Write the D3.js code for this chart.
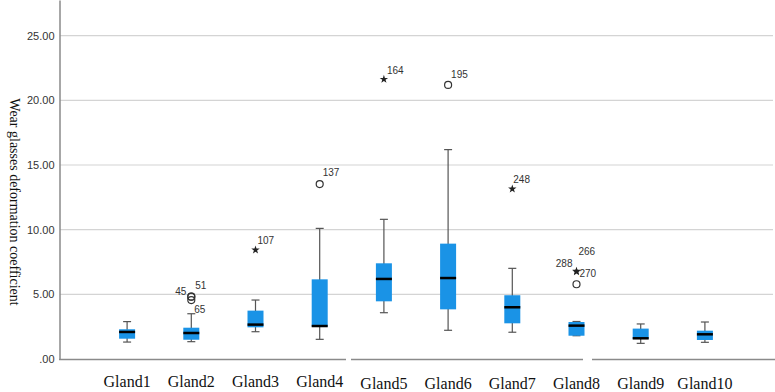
<!DOCTYPE html>
<html>
<head>
<meta charset="utf-8">
<script src="https://cdn.jsdelivr.net/npm/d3@7"></script>
<style>
  body { margin: 0; background: #fff; }
  svg { display: block; }
</style>
</head>
<body>
<div id="chart"></div>
<script>
// === DATA ===
const glands = ["Gland1","Gland2","Gland3","Gland4","Gland5","Gland6","Gland7","Gland8","Gland9","Gland10"];
const whiskerLow  = [1.31, 1.34, 2.11, 1.52, 3.58, 2.22, 2.07, 1.80, 1.21, 1.29];
const q1          = [1.57, 1.49, 2.45, 2.50, 4.46, 3.84, 2.76, 1.80, 1.55, 1.47];
const median      = [2.09, 2.01, 2.66, 2.55, 6.19, 6.26, 4.00, 2.58, 1.60, 1.91];
const q3          = [2.30, 2.42, 3.74, 6.16, 7.40, 8.92, 4.93, 2.86, 2.35, 2.19];
const whiskerHigh = [2.89, 3.50, 4.56, 10.10, 10.80, 16.19, 7.01, 2.90, 2.71, 2.86];

// outliers: gland, value, case label, kind (o = outlier, * = extreme)
const outlierGland = ["Gland2","Gland2","Gland2","Gland3","Gland4","Gland5","Gland6","Gland7","Gland8","Gland8","Gland8"];
const outlierValue = [4.82, 4.82, 4.56, 8.43, 13.53, 21.63, 21.19, 13.15, 6.80, 6.75, 5.78];
const outlierCase  = ["45","51","65","107","137","164","195","248","266","270","288"];
const outlierKind  = ["o","o","o","*","o","*","o","*","*","*","o"];

const yTicks = [0, 5, 10, 15, 20, 25];

// label placement next to each case marker (layout only)
const labelDx = [-5, 4, 3, 2, 3, 3, 3, 1, 2, 3, -4];
const labelDy = [-2, -8, 13, -6, -8, -5, -7, -6, -16, 5, -17];
const labelAnchor = ["end","start","start","start","start","start","start","start","start","start","end"];

// === SETUP ===
const W = 775, H = 392;
const svg = d3.select("#chart").append("svg").attr("width", W).attr("height", H);

const x = d3.scaleBand().domain(glands).range([95, 737]);
const y = d3.scaleLinear().domain([0, 27.76]).range([359, 0]);
const cx = g => x(g) + x.bandwidth() / 2;

// gridlines
svg.append("g").selectAll("line")
  .data(yTicks.filter(d => d > 0))
  .join("line")
  .attr("x1", 60).attr("x2", 773)
  .attr("y1", d => y(d)).attr("y2", d => y(d))
  .attr("stroke", "#d4d4d4").attr("stroke-width", 1.2);

// y axis
const yAxis = svg.append("g").attr("transform", "translate(59.5,0)")
  .call(d3.axisLeft(y).tickValues(yTicks).tickSize(0).tickPadding(5)
    .tickFormat(d => d === 0 ? ".00" : d3.format(".2f")(d)));
yAxis.select(".domain").attr("stroke", "#8a8a8a").attr("stroke-width", 1.5);
yAxis.selectAll("text").attr("font-family", "Liberation Sans, Arial, sans-serif")
  .attr("font-size", 11).attr("fill", "#333");

// x baseline (pieces, as in the source image)
const baseSegs = [[59, 346], [351, 583], [592, 775]];
svg.append("g").selectAll("line")
  .data(baseSegs)
  .join("line")
  .attr("x1", d => d[0]).attr("x2", d => d[1])
  .attr("y1", 359.5).attr("y2", 359.5)
  .attr("stroke", "#8a8a8a").attr("stroke-width", 1.5);

// x labels
svg.append("g").selectAll("text")
  .data(glands)
  .join("text")
  .attr("x", d => cx(d))
  .attr("y", (d, i) => i < 4 ? 387 : 389)
  .attr("text-anchor", "middle")
  .attr("font-family", "Liberation Serif, Times New Roman, serif")
  .attr("font-size", 16).attr("fill", "#111")
  .text(d => d);

// y title
svg.append("text")
  .attr("transform", "translate(10,202) rotate(90)")
  .attr("text-anchor", "middle")
  .attr("font-family", "Liberation Serif, Times New Roman, serif")
  .attr("font-size", 14).attr("fill", "#111")
  .text("Wear glasses deformation coefficient");

// === BOXES ===
const boxW = 16, capW = 8;
const boxes = glands.map((g, i) => ({
  g, lo: whiskerLow[i], q1: q1[i], med: median[i], q3: q3[i], hi: whiskerHigh[i]
}));

const bx = svg.append("g").selectAll("g").data(boxes).join("g");

bx.append("line")
  .attr("x1", d => cx(d.g)).attr("x2", d => cx(d.g))
  .attr("y1", d => y(d.hi)).attr("y2", d => y(d.lo))
  .attr("stroke", "#555").attr("stroke-width", 1.2);
bx.append("line")
  .attr("x1", d => cx(d.g) - capW / 2).attr("x2", d => cx(d.g) + capW / 2)
  .attr("y1", d => y(d.hi)).attr("y2", d => y(d.hi))
  .attr("stroke", "#555").attr("stroke-width", 1.2);
bx.append("line")
  .attr("x1", d => cx(d.g) - capW / 2).attr("x2", d => cx(d.g) + capW / 2)
  .attr("y1", d => y(d.lo)).attr("y2", d => y(d.lo))
  .attr("stroke", "#555").attr("stroke-width", 1.2);
bx.append("rect")
  .attr("x", d => cx(d.g) - boxW / 2).attr("width", boxW)
  .attr("y", d => y(d.q3)).attr("height", d => Math.max(1, y(d.q1) - y(d.q3)))
  .attr("fill", "#1a93e6");
bx.append("line")
  .attr("x1", d => cx(d.g) - boxW / 2).attr("x2", d => cx(d.g) + boxW / 2)
  .attr("y1", d => y(d.med)).attr("y2", d => y(d.med))
  .attr("stroke", "#000").attr("stroke-width", 2.5);

// === OUTLIERS ===
const outs = outlierValue.map((v, i) => ({
  g: outlierGland[i], v, c: outlierCase[i], k: outlierKind[i],
  dx: labelDx[i], dy: labelDy[i], a: labelAnchor[i]
}));

const og = svg.append("g");
og.selectAll("circle")
  .data(outs.filter(d => d.k === "o"))
  .join("circle")
  .attr("cx", d => cx(d.g)).attr("cy", d => y(d.v)).attr("r", 3.5)
  .attr("fill", "none").attr("stroke", "#333").attr("stroke-width", 1.2);
og.selectAll("path")
  .data(outs.filter(d => d.k === "*"))
  .join("path")
  .attr("transform", d => `translate(${cx(d.g)},${y(d.v)})`)
  .attr("d", d3.symbol().type(d3.symbolStar).size(22))
  .attr("fill", "#222");
og.selectAll("text")
  .data(outs)
  .join("text")
  .attr("x", d => cx(d.g) + d.dx).attr("y", d => y(d.v) + d.dy)
  .attr("text-anchor", d => d.a)
  .attr("font-family", "Liberation Sans, Arial, sans-serif")
  .attr("font-size", 10).attr("fill", "#333")
  .text(d => d.c);
</script>
</body>
</html>
